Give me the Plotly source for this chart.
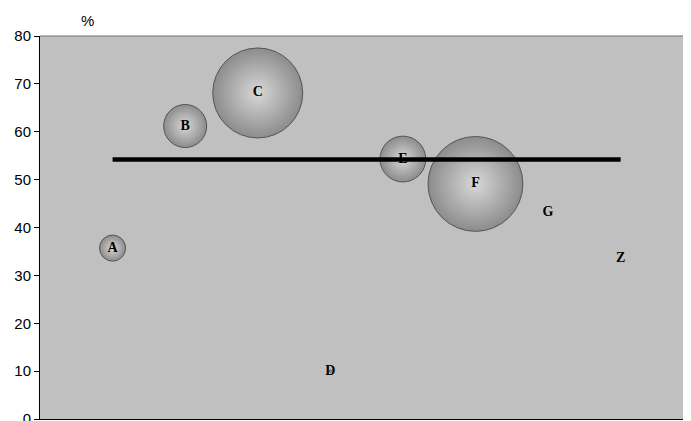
import plotly.graph_objects as go

# bubble chart data
labels = ["A", "B", "C", "D", "E", "F", "G", "Z"]
xpos = [1, 2, 3, 4, 5, 6, 7, 8]
yvals = [35.7, 61.2, 68.1, 10.0, 54.3, 49.1, 43.2, 33.6]
sizes = [6.8, 18.5, 81, 0.05, 21, 90, 0, 0]

avg_x = [1, 8]
avg_y = [54.2, 54.2]

fig = go.Figure()
fig.add_trace(go.Scatter(
    x=xpos, y=yvals, mode="markers+text", text=labels,
    textposition="middle center",
    textfont=dict(family="Liberation Serif", size=14, color="black", weight="bold"),
    marker=dict(size=sizes, sizemode="area", sizeref=0.02, sizemin=0,
                color="#8c8c8c", opacity=1,
                gradient=dict(type="radial", color="#d8d8d8"),
                line=dict(color="#555555", width=1)),
    cliponaxis=False, showlegend=False, hoverinfo="skip"))
fig.add_trace(go.Scatter(
    x=avg_x, y=avg_y, mode="lines",
    line=dict(color="black", width=4.5), showlegend=False, hoverinfo="skip"))

fig.update_layout(
    width=691, height=421,
    margin=dict(l=32, r=0, t=28, b=10),
    paper_bgcolor="white", plot_bgcolor="#c0c0c0",
    font=dict(family="Liberation Sans", size=15, color="black"),
    xaxis=dict(range=[0, 9.08], showgrid=False, zeroline=False, showticklabels=False,
               showline=True, linecolor="black", linewidth=1, ticks="",
               automargin=False),
    yaxis=dict(range=[0, 80], dtick=10, showgrid=False, zeroline=False,
               showline=True, linecolor="black", linewidth=1,
               ticks="outside", ticklen=5, tickcolor="black", automargin=False),
    shapes=[dict(type="line", xref="paper", yref="paper", x0=0, x1=1, y0=1, y1=1,
                 line=dict(color="#707070", width=1))],
    annotations=[dict(text="%", xref="x", yref="paper", x=0.65, y=1, yanchor="middle",
                      yshift=16, showarrow=False, font=dict(size=15))],
)

fig.write_html("out.html")
